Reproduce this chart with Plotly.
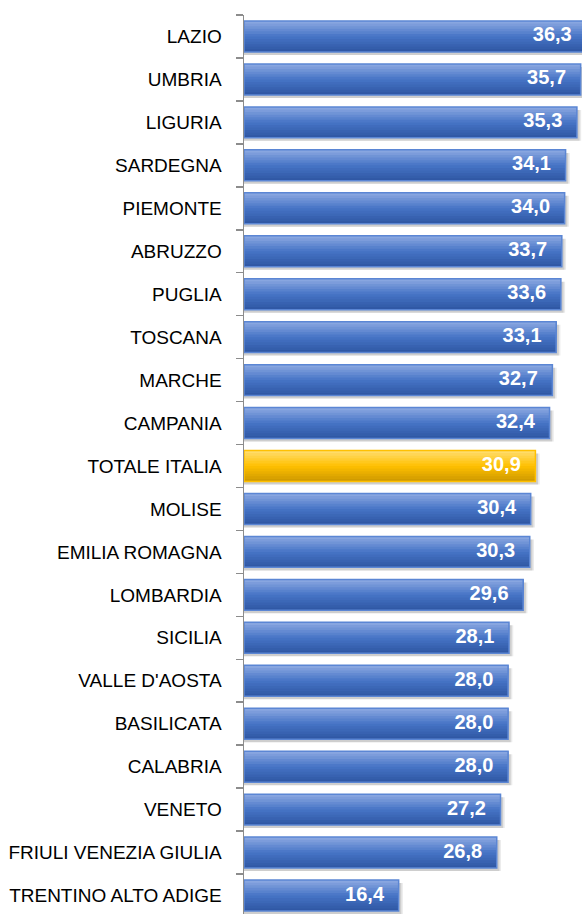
import plotly.graph_objects as go

regions = ["LAZIO", "UMBRIA", "LIGURIA", "SARDEGNA", "PIEMONTE", "ABRUZZO", "PUGLIA",
           "TOSCANA", "MARCHE", "CAMPANIA", "TOTALE ITALIA", "MOLISE", "EMILIA ROMAGNA",
           "LOMBARDIA", "SICILIA", "VALLE D'AOSTA", "BASILICATA", "CALABRIA", "VENETO",
           "FRIULI VENEZIA GIULIA", "TRENTINO ALTO ADIGE"]
values = [36.3, 35.7, 35.3, 34.1, 34.0, 33.7, 33.6, 33.1, 32.7, 32.4, 30.9, 30.4, 30.3,
          29.6, 28.1, 28.0, 28.0, 28.0, 27.2, 26.8, 16.4]
highlight = "TOTALE ITALIA"

labels = [f"{v:.1f}".replace(".", ",") for v in values]

W = 0.72
N = 12

blue_stops = [(0.0, (142, 170, 226)), (0.5, (70, 116, 198)), (1.0, (46, 86, 162))]
gold_stops = [(0.0, (255, 222, 115)), (0.5, (255, 192, 0)), (1.0, (204, 152, 0))]


def grad(stops, f):
    for (f0, c0), (f1, c1) in zip(stops, stops[1:]):
        if f0 <= f <= f1:
            t = (f - f0) / (f1 - f0)
            return "rgb(%d,%d,%d)" % tuple(round(a + (b - a) * t) for a, b in zip(c0, c1))
    return "rgb(%d,%d,%d)" % stops[-1][1]


fig = go.Figure()

# soft shadow
for extra, alpha in [(0.45, 0.08), (0.28, 0.12)]:
    fig.add_trace(go.Bar(
        y=regions, x=[v + extra for v in values], orientation="h",
        width=W, offset=-W / 2 + 0.07,
        marker=dict(color=f"rgba(0,0,0,{alpha})", line=dict(width=0)),
        hoverinfo="skip", showlegend=False))

# gradient strips
for k in range(N):
    f = 1 - (k + 0.5) / N
    cols = [grad(gold_stops if r == highlight else blue_stops, f) for r in regions]
    w = W * (1 - k / N)
    fig.add_trace(go.Bar(
        y=regions, x=values, orientation="h",
        width=w, offset=-W / 2,
        marker=dict(color=cols, line=dict(width=0)),
        hoverinfo="skip", showlegend=False))

# outline
fig.add_trace(go.Bar(
    y=regions, x=values, orientation="h",
    width=W, offset=-W / 2,
    marker=dict(color="rgba(0,0,0,0)",
                line=dict(width=1.5,
                          color=["#FFC000" if r == highlight else "#5B86D4" for r in regions])),
    hoverinfo="skip", showlegend=False))

# value labels
fig.add_trace(go.Scatter(
    y=regions, x=[v - 1.55 for v in values], mode="text",
    text=labels, textposition="middle left",
    textfont=dict(family="Liberation Sans, Arial, sans-serif", size=20, color="white",
                  weight="bold"),
    cliponaxis=False, hoverinfo="skip", showlegend=False))

fig.update_layout(
    width=582, height=914,
    margin=dict(l=244, r=0, t=15, b=0, autoexpand=False),
    barmode="overlay",
    plot_bgcolor="white", paper_bgcolor="white",
    font=dict(family="Liberation Sans, Arial, sans-serif", color="black"),
)
fig.update_xaxes(range=[0, 35.84], visible=False, fixedrange=True)
fig.update_yaxes(
    type="category", categoryorder="array", categoryarray=regions,
    range=[20.43, -0.5], fixedrange=True,
    tickson="boundaries", ticks="outside", ticklen=7, tickcolor="#8C8C8C", tickwidth=1.5,
    showline=True, linecolor="#8C8C8C", linewidth=1.5,
    showgrid=False, zeroline=False, automargin=False,
    tickfont=dict(size=19, color="black"), ticklabelstandoff=17,
)

fig.write_html(
    "out.html",
    config={"displayModeBar": False, "staticPlot": True},
    post_script="document.body.style.margin='0';document.body.style.overflow='hidden';",
)
